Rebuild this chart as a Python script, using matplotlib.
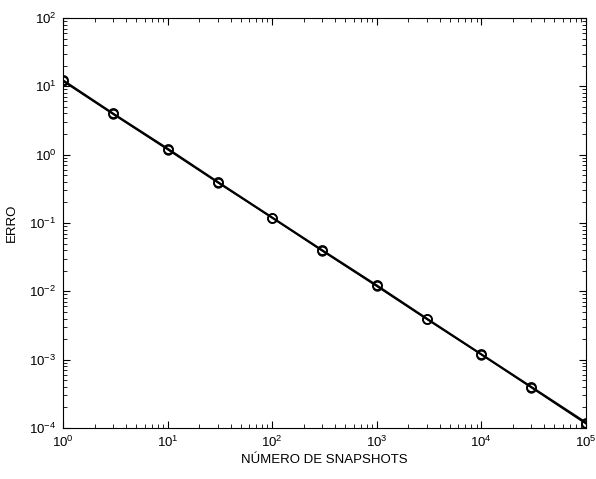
import matplotlib
matplotlib.use("Agg")
import matplotlib.pyplot as plt
from matplotlib.ticker import LogLocator, NullFormatter

plt.rcParams['font.family'] = ['Liberation Sans', 'DejaVu Sans']

snapshots = [1, 3, 10, 30, 100, 300, 1000, 3000, 10000, 30000, 100000]
erro_a = [12.2, 4.0, 1.22, 0.40, 0.12, 0.040, 0.0122, 0.0040, 0.00120, 0.00040, 0.000120]
erro_b = [11.8, 3.9, 1.18, 0.39, 0.118, 0.039, 0.0118, 0.0039, 0.00118, 0.00039, 0.000115]

fig = plt.figure(figsize=(5.96, 4.79), dpi=100)
ax = fig.add_axes([0.106, 0.1065, 0.877, 0.856])
ax.loglog(snapshots, erro_a, color='black', lw=1.5, marker='o', ms=6.5, mfc='none', mew=1.3)
ax.loglog(snapshots, erro_b, color='black', lw=1.0, marker='o', ms=6.5, mfc='none', mew=1.0)
ax.set_xlim(1, 1e5)
ax.set_ylim(1e-4, 1e2)
ax.xaxis.set_major_locator(LogLocator(base=10, numticks=10))
ax.yaxis.set_major_locator(LogLocator(base=10, numticks=10))
ax.xaxis.set_minor_locator(LogLocator(base=10, subs=range(2, 10), numticks=20))
ax.yaxis.set_minor_locator(LogLocator(base=10, subs=range(2, 10), numticks=20))
ax.xaxis.set_minor_formatter(NullFormatter())
ax.yaxis.set_minor_formatter(NullFormatter())
ax.tick_params(which='both', direction='in', top=True, right=True, labelsize=9.5)
ax.tick_params(which='major', length=5, pad=5)
ax.tick_params(which='minor', length=3)
for s in ax.spines.values():
    s.set_linewidth(0.8)
ax.set_xlabel('NÚMERO DE SNAPSHOTS', fontsize=9.5, labelpad=3)
ax.set_ylabel('ERRO', fontsize=9.5, labelpad=8)
fig.savefig('out.png', dpi=100)
